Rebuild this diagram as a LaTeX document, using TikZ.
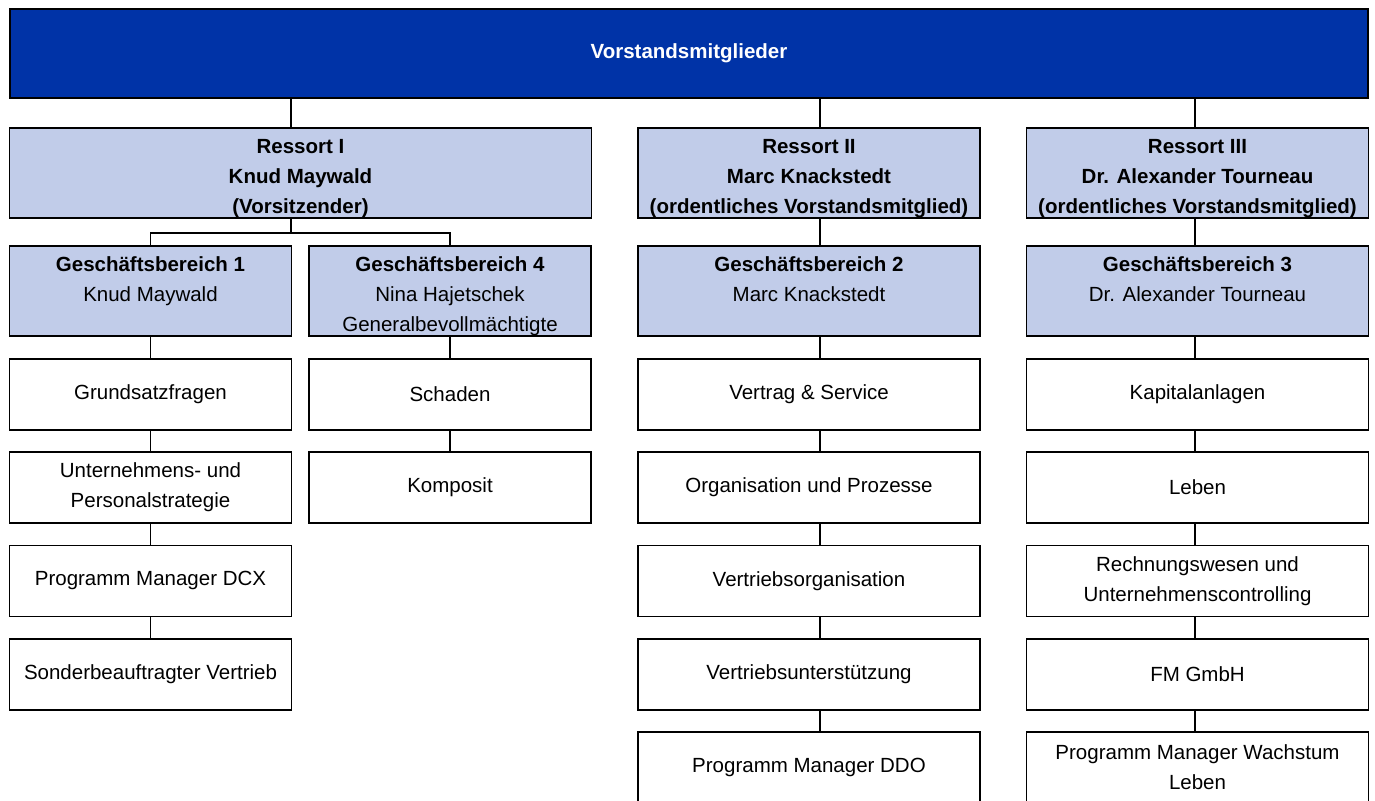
\documentclass[tikz,border=0pt]{standalone}
\usepackage{fontspec}
\setmainfont{Liberation Sans}
\usetikzlibrary{positioning}

\definecolor{vorstandblau}{RGB}{0,51,167}
\definecolor{ressortblau}{RGB}{193,204,233}

% Abstand oben und unten in den blauen Kaesten
\newcommand{\kopf}{\rule{0pt}{25.5pt}}
\newcommand{\fuss}{\rule[-4pt]{0pt}{0pt}}

\begin{document}
\begin{tikzpicture}[x=1pt, y=1pt, line width=1.8pt, node distance=20.5pt,
		box/.style={draw, rectangle, align=center, inner sep=0pt, font=\fontsize{20.5}{30}\selectfont},
		vorstand/.style={box, fill=vorstandblau, text=white, font=\fontsize{20.5}{30}\selectfont\bfseries, minimum width=1358pt, minimum height=89pt},
		ressort/.style={box, fill=ressortblau, font=\fontsize{20.5}{30}\selectfont\bfseries, minimum height=90pt},
		bereich/.style={box, fill=ressortblau, minimum height=90pt},
		abteilung/.style={box, fill=white, minimum height=71pt},
		schmal/.style={minimum width=282pt},
		breit/.style={minimum width=342pt}]
		
		\useasboundingbox (0,0) rectangle (1375,-800);
		
		% Vorstand
		\node[vorstand] (vorstand) at (689,-53.5) {Vorstandsmitglieder};
		
		% Ressorts
		\node[ressort, minimum width=582pt] (r1) at (300.5,-173) {\kopf Ressort I\\Knud Maywald\\(Vorsitzender)\fuss};
		\node[ressort, breit] (r2) at (809,-173) {\kopf Ressort II\\Marc Knackstedt\\(ordentliches Vorstandsmitglied)\fuss};
		\node[ressort, breit] (r3) at (1197.5,-173) {\kopf Ressort III\\Dr. Alexander Tourneau\\(ordentliches Vorstandsmitglied)\fuss};
		
		% Geschaeftsbereiche
		\node[bereich, schmal] (gb1) at (150.5,-291) {\kopf\textbf{Geschäftsbereich 1}\\Knud Maywald\\\fuss};
		\node[bereich, schmal] (gb4) at (450,-291) {\kopf\textbf{Geschäftsbereich 4}\\Nina Hajetschek\\Generalbevollmächtigte\fuss};
		\node[bereich, breit] (gb2) at (809,-291) {\kopf\textbf{Geschäftsbereich 2}\\Marc Knackstedt\\\fuss};
		\node[bereich, breit] (gb3) at (1197.5,-291) {\kopf\textbf{Geschäftsbereich 3}\\Dr. Alexander Tourneau\\\fuss};
		
		% Abteilungen GB 1
		\node[abteilung, schmal, below=21pt of gb1] (grundsatz) {Grundsatzfragen};
		\node[abteilung, schmal, below=of grundsatz] (strategie) {Unternehmens- und\\Personalstrategie};
		\node[abteilung, schmal, below=of strategie] (dcx) {Programm Manager DCX};
		\node[abteilung, schmal, below=of dcx] (sonder) {Sonderbeauftragter Vertrieb};
		
		% Abteilungen GB 4
		\node[abteilung, schmal, below=21pt of gb4] (schaden) {Schaden};
		\node[abteilung, schmal, below=of schaden] (komposit) {Komposit};
		
		% Abteilungen GB 2
		\node[abteilung, breit, below=21pt of gb2] (vertrag) {Vertrag \& Service};
		\node[abteilung, breit, below=of vertrag] (organisation) {Organisation und Prozesse};
		\node[abteilung, breit, below=of organisation] (vertriebsorg) {Vertriebsorganisation};
		\node[abteilung, breit, below=of vertriebsorg] (unterstuetzung) {Vertriebsunterstützung};
		\node[abteilung, breit, below=of unterstuetzung] (ddo) {Programm Manager DDO};
		
		% Abteilungen GB 3
		\node[abteilung, breit, below=21pt of gb3] (kapital) {Kapitalanlagen};
		\node[abteilung, breit, below=of kapital] (leben) {Leben};
		\node[abteilung, breit, below=of leben] (rechnung) {Rechnungswesen und\\Unternehmenscontrolling};
		\node[abteilung, breit, below=of rechnung] (fm) {FM GmbH};
		\node[abteilung, breit, below=of fm] (wachstum) {Programm Manager Wachstum\\Leben};
		
		% Linien
		\coordinate (l1) at (291,0);
		\coordinate (l2) at (820,0);
		\coordinate (l3) at (1195,0);
		
		\draw (vorstand.south -| l1) -- (r1.north -| l1);
		\draw (vorstand.south -| l2) -- (r2.north -| l2);
		\draw (vorstand.south -| l3) -- (r3.north -| l3);
		
		\draw (r1.south -| l1) -- ++(0,-14) -| (gb1.north);
		\draw (r1.south -| l1) ++(0,-14) -| (gb4.north);
		\draw (r2.south -| l2) -- (gb2.north -| l2);
		\draw (r3.south -| l3) -- (gb3.north -| l3);
		
		\draw (gb1) -- (grundsatz);
		\draw (grundsatz) -- (strategie);
		\draw (strategie) -- (dcx);
		\draw (dcx) -- (sonder);
		
		\draw (gb4) -- (schaden);
		\draw (schaden) -- (komposit);
		
		\draw (gb2.south -| l2) -- (vertrag.north -| l2);
		\draw (vertrag.south -| l2) -- (organisation.north -| l2);
		\draw (organisation.south -| l2) -- (vertriebsorg.north -| l2);
		\draw (vertriebsorg.south -| l2) -- (unterstuetzung.north -| l2);
		\draw (unterstuetzung.south -| l2) -- (ddo.north -| l2);
		
		\draw (gb3.south -| l3) -- (kapital.north -| l3);
		\draw (kapital.south -| l3) -- (leben.north -| l3);
		\draw (leben.south -| l3) -- (rechnung.north -| l3);
		\draw (rechnung.south -| l3) -- (fm.north -| l3);
		\draw (fm.south -| l3) -- (wachstum.north -| l3);
		
	\end{tikzpicture}
\end{document}
